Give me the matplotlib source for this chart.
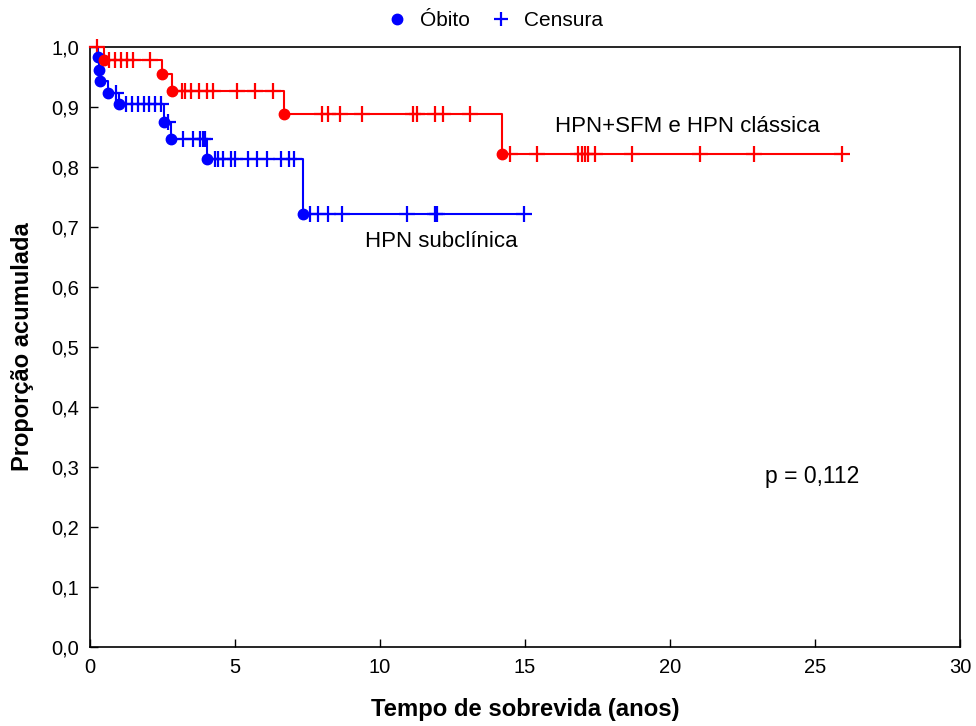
import numpy as np
import matplotlib.pyplot as plt
from matplotlib.lines import Line2D
from matplotlib.ticker import FuncFormatter, MultipleLocator

plt.rcParams['font.family'] = ['Liberation Sans', 'DejaVu Sans']

# HPN subclínica: tempos de óbito, sobrevida após cada óbito e tempos censurados
sub_obito_t = [0.28, 0.32, 0.36, 0.61, 1.0, 2.55, 2.8, 4.05, 7.35]
sub_obito_s = [0.983, 0.962, 0.943, 0.924, 0.905, 0.875, 0.846, 0.813, 0.722]
sub_cens_t = [0.9, 1.25, 1.45, 1.65, 1.85, 2.05, 2.25, 2.45, 2.7,
              3.2, 3.55, 3.78, 3.88, 3.98,
              4.3, 4.4, 4.6, 4.85, 5.0, 5.45, 5.75, 6.1, 6.6, 6.85, 7.05,
              7.6, 7.87, 8.22, 8.68, 10.92, 11.9, 11.98, 14.95]

# HPN+SFM e HPN clássica
cla_obito_t = [0.5, 2.5, 2.82, 6.69, 14.2]
cla_obito_s = [0.979, 0.955, 0.927, 0.888, 0.821]
cla_cens_t = [0.25, 0.64, 0.85, 1.08, 1.29, 1.48, 2.06,
              3.16, 3.28, 3.5, 3.77, 4.02, 4.25, 5.06, 5.69, 6.32,
              7.99, 8.22, 8.62, 9.37, 11.15, 11.26, 11.9, 12.18, 13.1,
              14.48, 15.4, 16.84, 16.95, 17.07, 17.18, 17.41, 18.68, 21.03,
              22.91, 25.92]


def curva(ax, obito_t, obito_s, cens_t, cor):
    t_fim = max(max(cens_t), max(obito_t))
    tt = np.r_[0, obito_t, t_fim]
    ss = np.r_[1.0, obito_s, obito_s[-1]]
    ax.step(tt, ss, where='post', color=cor, lw=1.5, clip_on=False, zorder=3)
    # nível da curva em cada censura
    idx = np.searchsorted(obito_t, cens_t, side='right')
    niveis = np.r_[1.0, obito_s][idx]
    ax.plot(cens_t, niveis, ls='none', marker='+', ms=12, mew=1.6,
            color=cor, clip_on=False, zorder=4)
    ax.plot(obito_t, obito_s, ls='none', marker='o', ms=7.5,
            color=cor, clip_on=False, zorder=5)


fig = plt.figure(figsize=(9.76, 7.26), dpi=100)
ax = fig.add_axes([0.0922, 0.1088, 0.8914, 0.8265])

curva(ax, sub_obito_t, sub_obito_s, sub_cens_t, '#0000ff')
curva(ax, cla_obito_t, cla_obito_s, cla_cens_t, '#ff0000')

ax.set_xlim(0, 30)
ax.set_ylim(0, 1.0)
ax.xaxis.set_major_locator(MultipleLocator(5))
ax.yaxis.set_major_locator(MultipleLocator(0.1))
ax.yaxis.set_major_formatter(FuncFormatter(lambda v, p: f'{v:.1f}'.replace('.', ',')))
ax.tick_params(direction='in', length=6, width=1, labelsize=14.5, pad=8)
for s in ax.spines.values():
    s.set_linewidth(1.2)

ax.set_xlabel('Tempo de sobrevida (anos)', fontsize=17.2, fontweight='bold', labelpad=15)
ax.set_ylabel('Proporção acumulada', fontsize=17, fontweight='bold', labelpad=12)

ax.text(20.6, 0.868, 'HPN+SFM e HPN clássica', fontsize=16, ha='center', va='center')
ax.text(12.1, 0.676, 'HPN subclínica', fontsize=16, ha='center', va='center')
ax.text(24.9, 0.285, 'p = 0,112', fontsize=16.5, ha='center', va='center')

handles = [Line2D([], [], ls='none', marker='o', ms=7.5, color='#0000ff'),
           Line2D([], [], ls='none', marker='+', ms=10, mew=1.6, color='#0000ff')]
fig.legend(handles, ['Óbito', 'Censura'], loc='center', bbox_to_anchor=(0.506, 0.972),
           ncol=2, frameon=False, fontsize=15, handlelength=1.2,
           handletextpad=0.5, columnspacing=0.9)

fig.savefig('out.png', dpi=100)
